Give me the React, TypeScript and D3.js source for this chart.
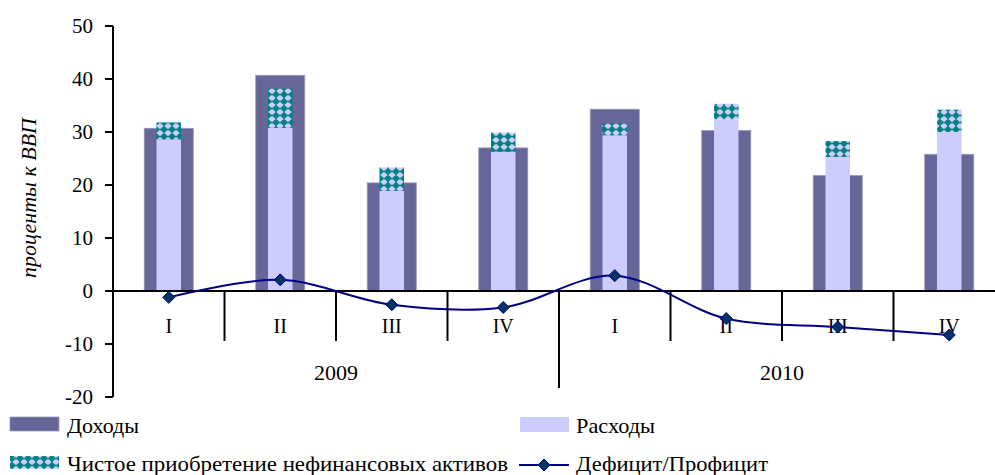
import React from "react";
import * as d3 from "d3";

const quarters = ["I", "II", "III", "IV", "I", "II", "III", "IV"];
const years = ["2009", "2010"];
const revenues = [30.7, 40.7, 20.4, 27.0, 34.3, 30.3, 21.8, 25.8];
const expenses = [28.6, 30.8, 18.9, 26.3, 29.4, 32.4, 25.3, 30.0];
const netAcquisition = [3.2, 7.4, 4.4, 3.6, 2.2, 2.9, 3.0, 4.2];
const balance = [-1.2, 2.1, -2.6, -3.1, 2.9, -5.2, -6.8, -8.3];
const yTicks = [50, 40, 30, 20, 10, 0, -10, -20];

const W = 995;
const H = 475;
const FONT = "Liberation Serif";
const DARK = "#666699";
const LIGHT = "#CCCCFF";
const TEAL = "#008080";
const NAVY = "#000080";

export default function App() {
  const x = d3.scaleBand<number>().domain(d3.range(8)).range([113, 1005]).padding(0);
  const y = d3.scaleLinear().domain([-20, 50]).range([397, 26]);
  const bw = x.bandwidth();
  const darkW = bw * 0.44;
  const lightW = bw * 0.22;
  const cx = (i: number) => (x(i) as number) + bw / 2;

  const line = d3
    .line<number>()
    .x((_, i) => cx(i))
    .y((d) => y(d))
    .curve(d3.curveCatmullRom.alpha(0.5));

  const diamond = (px: number, py: number, r = 6) =>
    `M${px},${py - r}L${px + r},${py}L${px},${py + r}L${px - r},${py}Z`;

  const y0 = y(0);
  const ts = { fontFamily: FONT };

  return (
    <svg
      width={W}
      height={H}
      style={{ position: "absolute", left: 0, top: 0, background: "#fff", fontFamily: FONT }}
    >
      <defs>
        <pattern id="dots" width="8" height="7" patternUnits="userSpaceOnUse">
          <rect width="8" height="7" fill={LIGHT} />
          <circle cx="4" cy="3.5" r="2.8" fill={TEAL} />
          <rect x="3.2" y="0" width="1.6" height="7" fill={TEAL} />
          <rect x="0" y="2.7" width="8" height="1.6" fill={TEAL} />
        </pattern>
      </defs>

      {revenues.map((v, i) => (
        <rect
          key={"r" + i}
          x={cx(i) - darkW / 2}
          y={y(v)}
          width={darkW}
          height={y0 - y(v)}
          fill={DARK}
          stroke="#9999bb"
          strokeWidth={0.8}
        />
      ))}
      {expenses.map((v, i) => (
        <rect
          key={"e" + i}
          x={cx(i) - lightW / 2}
          y={y(v)}
          width={lightW}
          height={y0 - y(v)}
          fill={LIGHT}
        />
      ))}
      {netAcquisition.map((v, i) => (
        <rect
          key={"n" + i}
          x={cx(i) - lightW / 2}
          y={y(expenses[i] + v)}
          width={lightW}
          height={y(expenses[i]) - y(expenses[i] + v)}
          fill="url(#dots)"
        />
      ))}

      <line x1={113} x2={113} y1={y(50)} y2={y(-20)} stroke="#000" strokeWidth={2} />
      {yTicks.map((t) => (
        <g key={"t" + t}>
          <line x1={105} x2={113} y1={y(t)} y2={y(t)} stroke="#000" strokeWidth={2} />
          <text x={93} y={y(t) + 7} textAnchor="end" fontSize={21} style={ts}>
            {t}
          </text>
        </g>
      ))}
      <text
        transform={`translate(36,198) rotate(-90)`}
        textAnchor="middle"
        fontSize={22}
        fontStyle="italic"
        style={ts}
        textLength={160}
        lengthAdjust="spacingAndGlyphs"
      >
        проценты к ВВП
      </text>

      <line x1={105} x2={W} y1={y0} y2={y0} stroke="#000" strokeWidth={2} />
      {d3.range(1, 8).map((i) => (
        <line
          key={"s" + i}
          x1={x(i) as number}
          x2={x(i) as number}
          y1={y0}
          y2={i === 4 ? 388 : 341}
          stroke="#000"
          strokeWidth={2}
        />
      ))}
      {quarters.map((q, i) => (
        <text key={"q" + i} x={cx(i)} y={333} textAnchor="middle" fontSize={20} style={ts}>
          {q}
        </text>
      ))}
      {years.map((yr, k) => (
        <text
          key={"y" + k}
          x={((x(k * 4) as number) + (x(k * 4 + 3) as number) + bw) / 2}
          y={380}
          textAnchor="middle"
          fontSize={22}
          style={ts}
        >
          {yr}
        </text>
      ))}

      <path d={line(balance) || ""} fill="none" stroke={NAVY} strokeWidth={2} />
      {balance.map((v, i) => (
        <path key={"m" + i} d={diamond(cx(i), y(v))} fill="#003366" stroke={NAVY} strokeWidth={1} />
      ))}

      <rect x={10} y={417} width={49} height={14} fill={DARK} stroke="#9999bb" strokeWidth={0.8} />
      <text x={67} y={433} fontSize={21} style={ts} textLength={72} lengthAdjust="spacingAndGlyphs">
        Доходы
      </text>
      <rect x={520} y={417} width={49} height={15} fill={LIGHT} />
      <text x={576} y={433} fontSize={21} style={ts} textLength={79} lengthAdjust="spacingAndGlyphs">
        Расходы
      </text>
      <rect x={10} y={456} width={49} height={13} fill="url(#dots)" />
      <text x={67} y={471} fontSize={21} style={ts} textLength={441} lengthAdjust="spacingAndGlyphs">
        Чистое приобретение нефинансовых активов
      </text>
      <line x1={519} x2={569} y1={465} y2={465} stroke={NAVY} strokeWidth={2} />
      <path d={diamond(544, 465)} fill="#003366" stroke={NAVY} strokeWidth={1} />
      <text x={576} y={471} fontSize={21} style={ts} textLength={192} lengthAdjust="spacingAndGlyphs">
        Дефицит/Профицит
      </text>
    </svg>
  );
}
